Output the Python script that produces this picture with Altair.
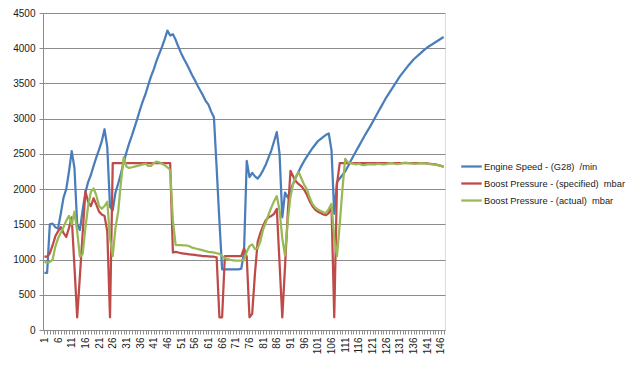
import altair as alt
import pandas as pd

idx = list(range(1, 148))

engine = [
    810, 810, 1500, 1510, 1460, 1440, 1650, 1880, 2000, 2250,
    2540, 2300, 1500, 1420, 1700, 1950, 2100, 2200, 2330, 2450,
    2560, 2680, 2850, 2600, 1750, 1700, 1950, 2080, 2220, 2380,
    2520, 2650, 2760, 2880, 3000, 3130, 3250, 3350, 3480, 3600,
    3700, 3820, 3920, 4020, 4130, 4250, 4180, 4200, 4120, 4020,
    3930, 3850, 3780, 3700, 3620, 3550, 3470, 3400, 3330, 3250,
    3200, 3100, 3020, 2300, 1550, 860, 860, 860, 860, 860,
    860, 860, 870, 1100, 2400, 2170, 2230, 2180, 2150, 2200,
    2270, 2350, 2450, 2550, 2680, 2810, 2500, 1600, 1950, 1880,
    1980, 2080, 2170, 2250, 2330, 2400, 2460, 2520, 2580, 2630,
    2680, 2710, 2740, 2770, 2790, 2550, 1650, 2100, 2150, 2200,
    2250, 2320, 2400, 2470, 2540, 2610, 2680, 2750, 2815, 2880,
    2950, 3020, 3090, 3160, 3230, 3300, 3360, 3420, 3480, 3540,
    3600, 3650, 3700, 3750, 3795, 3840, 3875, 3910, 3945, 3980,
    4010, 4035, 4060, 4085, 4110, 4135, 4160,
]

specified = [
    1040, 1040, 1090, 1200, 1330, 1400, 1460, 1380, 1320, 1450,
    1600, 900, 180, 770, 1370, 1970, 1820, 1760, 1870, 1780,
    1680, 1640, 1620, 1400, 180, 2370, 2370, 2370, 2370, 2370,
    2370, 2370, 2370, 2370, 2370, 2370, 2370, 2370, 2370, 2370,
    2370, 2370, 2370, 2370, 2370, 2370, 2370, 1100, 1110, 1100,
    1090, 1085, 1080, 1075, 1070, 1065, 1060, 1055, 1050, 1050,
    1045, 1040, 1040, 1030, 180, 180, 1050, 1050, 1050, 1050,
    1050, 1050, 1050, 1160, 1040, 180, 230, 800, 1250, 1380,
    1480, 1560, 1600, 1620, 1650, 1720, 950, 180, 900, 1650,
    2260, 2180, 2110, 2070, 2040, 1990, 1920, 1830, 1760, 1710,
    1680, 1660, 1640, 1630, 1660, 1750, 180, 2070, 2370, 2370,
    2370, 2370, 2370, 2370, 2370, 2370, 2370, 2370, 2370, 2370,
    2370, 2370, 2370, 2370, 2370, 2370, 2370, 2370, 2370, 2370,
    2370, 2370, 2370, 2370, 2370, 2370, 2370, 2370, 2370, 2370,
    2365, 2360, 2355, 2350, 2340, 2330, 2320,
]

actual = [
    965, 960, 965, 1000, 1180, 1300, 1380, 1460, 1550, 1620,
    1500, 1680, 1400, 1040, 1080, 1450, 1760, 1960, 2010, 1910,
    1760, 1720, 1760, 1820, 1300, 1050, 1450, 1680, 2100, 2450,
    2320, 2300, 2310, 2320, 2330, 2340, 2350, 2360, 2330, 2330,
    2370, 2390, 2380, 2360, 2340, 2310, 2270, 1550, 1210, 1205,
    1205, 1200, 1200, 1190, 1170, 1160, 1150, 1140, 1130, 1120,
    1110, 1105, 1100, 1090, 1080, 1050, 1020, 1005, 995, 990,
    985, 985, 990, 1000, 1110, 1190, 1215, 1150, 1160, 1260,
    1430, 1530, 1640, 1740, 1830, 1900, 1700, 1300, 1060, 1550,
    1900, 2080, 2180, 2240, 2150, 2060, 2000, 1880, 1790, 1740,
    1710, 1690, 1670, 1660, 1720, 1790, 1300, 1050, 1500, 2000,
    2430, 2380, 2370, 2360, 2350, 2360, 2345, 2340, 2350, 2355,
    2350, 2350, 2360, 2355, 2350, 2355, 2365, 2370, 2360, 2355,
    2360, 2370, 2375, 2370, 2365, 2360, 2360, 2365, 2370, 2365,
    2360, 2355, 2350, 2345, 2340, 2330, 2315,
]

series_names = [
    "Engine Speed - (G28) \u00a0/min",
    "Boost Pressure - (specified) \u00a0mbar",
    "Boost Pressure - (actual) \u00a0mbar",
]
colors = ["#4A7EBB", "#BE4B48", "#98B954"]
y_ticks = list(range(0, 4501, 500))

rows = []
for name, vals in zip(series_names, [engine, specified, actual]):
    for i, v in zip(idx, vals):
        rows.append({"i": i, "series": name, "value": v})
df = pd.DataFrame(rows)

FONT = "Liberation Sans"
GRID = "#8C8C8C"

chart = (
    alt.Chart(df)
    .mark_line(strokeWidth=2.25, strokeJoin="round", clip=False)
    .encode(
        x=alt.X(
            "i:Q",
            scale=alt.Scale(domain=[0.5, 147.5], nice=False, zero=False),
            axis=alt.Axis(
                values=idx,
                format="d",
                labelExpr="(datum.value - 1) % 5 == 0 ? datum.label : ''",
                labelAngle=270,
                labelOverlap=False,
                labelFlush=False,
                labelBound=False,
                labelFont=FONT,
                labelFontSize=10,
                labelColor="#1a1a1a",
                labelPadding=3,
                tickSize=4,
                tickColor=GRID,
                domainColor=GRID,
                grid=False,
                title=None,
            ),
        ),
        y=alt.Y(
            "value:Q",
            scale=alt.Scale(domain=[0, 4500], nice=False),
            axis=alt.Axis(
                values=y_ticks,
                format="d",
                grid=True,
                gridColor=GRID,
                gridWidth=1,
                labelFont=FONT,
                labelFontSize=10,
                labelColor="#1a1a1a",
                labelPadding=4,
                tickSize=4,
                tickColor=GRID,
                domainColor=GRID,
                title=None,
            ),
        ),
        color=alt.Color(
            "series:N",
            scale=alt.Scale(domain=series_names, range=colors),
            legend=alt.Legend(
                title=None,
                orient="none",
                legendX=417,
                legendY=142,
                symbolType="stroke",
                symbolSize=420,
                symbolStrokeWidth=2.25,
                labelFont=FONT,
                labelFontSize=9.3,
                labelColor="#1a1a1a",
                labelOffset=1,
                labelLimit=400,
                rowPadding=0,
                padding=0,
            ),
        ),
    )
    .properties(
        width=402,
        height=317,
        autosize="none",
        padding={"left": 35, "top": 5, "right": 187, "bottom": 30},
    )
    .configure_view(strokeWidth=0)
    .configure(background="white")
)

chart.save("out.html", embed_options={"renderer": "svg", "actions": False})
